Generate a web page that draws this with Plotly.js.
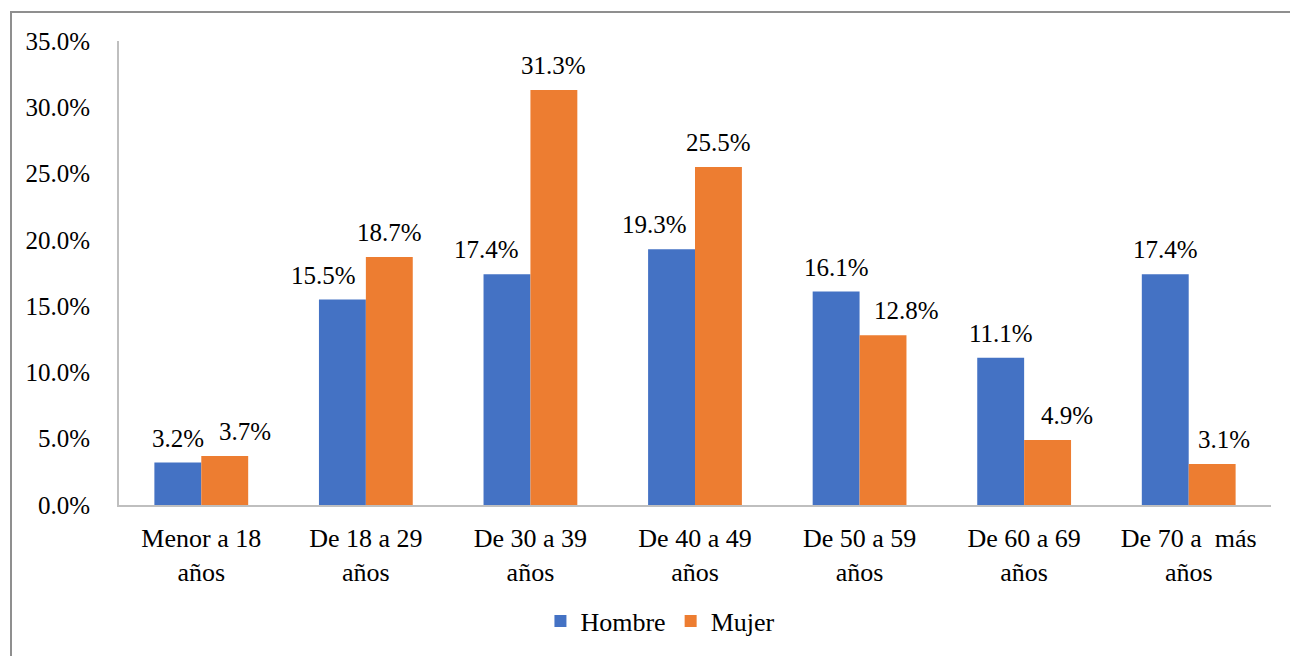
<!DOCTYPE html>
<html>
<head>
<meta charset="utf-8">
<script src="https://cdn.plot.ly/plotly-3.0.1.min.js"></script>
<style>
  html, body { margin: 0; padding: 0; background: #ffffff; overflow: hidden; }
  #wrap { position: relative; width: 1290px; height: 656px; }
  #frame { position: absolute; left: 10px; top: 11px; width: 1300px; height: 700px;
           border-left: 2px solid #8f8f8f; border-top: 2px solid #8f8f8f; box-sizing: border-box; pointer-events: none; }
  #chart { position: absolute; left: 0; top: 0; width: 1290px; height: 656px; }
</style>
</head>
<body>
<div id="wrap">
  <div id="chart"></div>
  <div id="frame"></div>
</div>
<script>
// Age groups (two-line labels)
const categories = [
  "Menor a 18<br>años",
  "De 18 a 29<br>años",
  "De 30 a 39<br>años",
  "De 40 a 49<br>años",
  "De 50 a 59<br>años",
  "De 60 a 69<br>años",
  "De 70 a  más<br>años"
];
// Percentages by sex
const hombre = [3.2, 15.5, 17.4, 19.3, 16.1, 11.1, 17.4];
const mujer  = [3.7, 18.7, 31.3, 25.5, 12.8, 4.9, 3.1];
const yTicks = [0, 5, 10, 15, 20, 25, 30, 35];

const FONT = "Liberation Serif, Times New Roman, DejaVu Serif, serif";
const COLORS = { hombre: "#4472C4", mujer: "#ED7D31" };
const BARGAP = 0.43;
const pct = v => v.toFixed(1) + "%";

// Horizontal nudges (px) so neighbouring value labels don't collide
const nudgeHombre = [0, -19, -20, -17, 0, 0, 0];
const nudgeMujer  = [20, 0, 0, 0, 23, 19, 12];

function series(name, values, color) {
  return {
    type: "bar",
    name: name,
    x: categories,
    y: values,
    marker: { color: color, line: { width: 0 } },
    hoverinfo: "skip"
  };
}

const data = [
  series("Hombre", hombre, COLORS.hombre),
  series("Mujer", mujer, COLORS.mujer)
];

// Value labels above each bar; bar centres sit a quarter of the group width either side
const half = (1 - BARGAP) / 4;
function valueLabels(values, side, nudges) {
  return values.map((v, i) => ({
    xref: "x", yref: "y",
    x: i + side * half,
    y: v,
    text: pct(v),
    showarrow: false,
    xanchor: "center",
    yanchor: "bottom",
    xshift: nudges[i],
    yshift: 9,
    font: { family: FONT, size: 25, color: "#000000" }
  }));
}

const layout = {
  width: 1290,
  height: 656,
  margin: { l: 119, r: 19, t: 41, b: 147 },
  paper_bgcolor: "#ffffff",
  plot_bgcolor: "#ffffff",
  font: { family: FONT, size: 25, color: "#000000" },
  barmode: "group",
  bargap: BARGAP,
  bargroupgap: 0,
  showlegend: true,
  legend: {
    orientation: "h",
    x: 0.47, xanchor: "center",
    y: -0.25, yanchor: "middle",
    font: { family: FONT, size: 26, color: "#000000" },
    itemwidth: 30,
    traceorder: "normal"
  },
  annotations: [
    ...valueLabels(hombre, -1, nudgeHombre),
    ...valueLabels(mujer, 1, nudgeMujer)
  ],
  xaxis: {
    type: "category",
    showline: true,
    linecolor: "#BFBFBF",
    linewidth: 2,
    ticks: "",
    showgrid: false,
    zeroline: false,
    tickfont: { family: FONT, size: 26, color: "#000000" },
    ticklabelstandoff: 9
  },
  yaxis: {
    range: [0, 35],
    tickvals: yTicks,
    ticktext: yTicks.map(pct),
    showline: true,
    linecolor: "#BFBFBF",
    linewidth: 2,
    ticks: "",
    showgrid: false,
    zeroline: false,
    tickfont: { family: FONT, size: 25, color: "#000000" },
    ticklabelstandoff: 22
  }
};

Plotly.newPlot("chart", data, layout, { displayModeBar: false, staticPlot: true });
</script>
</body>
</html>
